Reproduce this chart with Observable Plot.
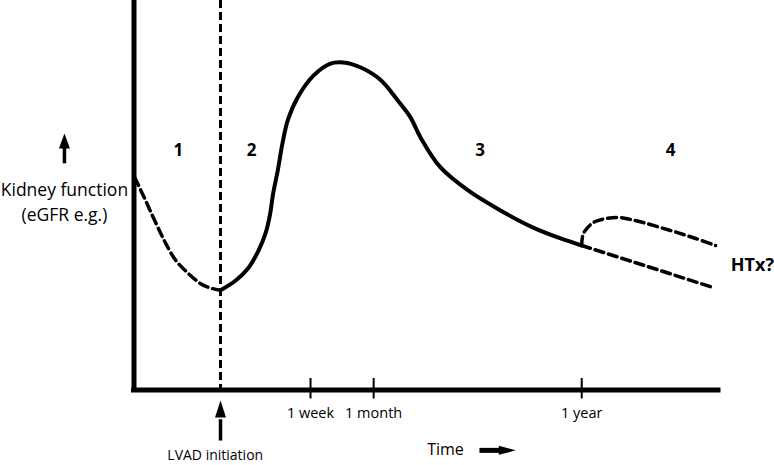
<!DOCTYPE html>
<html>
<head>
<meta charset="utf-8">
<script src="https://cdn.jsdelivr.net/npm/d3@7"></script>
<script src="https://cdn.jsdelivr.net/npm/@observablehq/plot@0.6"></script>
<style>
  html, body { margin: 0; padding: 0; background: #fff; }
</style>
</head>
<body>
<div id="chart"></div>
<script>
// ---- data (arbitrary time units 0–100, kidney function 0–100) ----
// phase 1: before LVAD (dashed decline)
const preTime = [0.1, 1.6, 3.3, 5.0, 6.8, 9.1, 11.4, 14.8];
const preFunc = [54.6, 49.9, 44.3, 38.9, 34.0, 30.2, 27.3, 25.6];
// phases 2–3: after LVAD (solid)
const postTime = [14.8, 17.4, 19.6, 21.3, 22.5, 23.3, 23.8, 24.6, 25.4, 26.3, 28.0, 30.7, 33.6, 35.8, 38.8, 42.2, 45.3, 47.3, 49.0, 52.4, 57.1, 62.7, 68.3, 73.0, 76.6];
const postFunc = [25.6, 28.1, 31.4, 35.8, 40.2, 45.3, 50.4, 56.4, 63.3, 69.2, 75.1, 80.7, 83.8, 84.1, 82.8, 79.6, 74.0, 70.0, 64.9, 57.2, 51.3, 46.1, 41.7, 38.9, 37.1];
// phase 4: with heart transplant (upper dashed)
const htxTime = [76.6, 76.9, 78.6, 80.7, 82.7, 84.9, 87.1, 90.1, 93.0, 96.1, 99.5];
const htxFunc = [37.1, 40.2, 43.0, 44.0, 44.3, 43.8, 43.0, 41.7, 40.4, 38.9, 37.1];
// phase 4: without transplant (lower dashed)
const noHtxTime = [76.6, 87.9, 99.1];
const noHtxFunc = [37.1, 31.7, 26.3];

const lvadTime = 14.8;
const tickPos = [30.2, 41.0, 76.6];
const tickLabels = ["1 week", "1 month", "1 year"];
const phaseLabels = ["1", "2", "3", "4"];
const phaseX = [7.6, 20.1, 59.2, 91.8];
const phaseY = 61.5;

// annotation positions (data units, extrapolated outside the frame)
const yLabelLines = ["Kidney function", "(eGFR e.g.)"];
const yLabelX = -11.9;
const yLabelY = [51.2, 44.8];
const yArrow = {x: -11.9, y1: 58.2, y2: 62.5, head: 62.0};
const lvadLabel = "LVAD initiation";
const lvadArrow = {x: 14.8, y1: -12.97, y2: -7.5, head: -7.06, labelX: 13.9, labelY: -16.9};
const timeLabel = "Time";
const timeArrow = {labelX: 53.3, y: -15.5, x1: 59.1, x2: 62.8, head: 62.4};
const htxLabel = "HTx?";
const htxLabelPos = {x: 102.1, y: 32.0};
const tickLabelY = -6.0;

const toRows = (xs, ys) => xs.map((x, i) => ({t: x, f: ys[i]}));
const pre = toRows(preTime, preFunc);
const post = toRows(postTime, postFunc);
const htx = toRows(htxTime, htxFunc);
const noHtx = toRows(noHtxTime, noHtxFunc);

const font = "'Open Sans', sans-serif";
const reg = 500;

const chart = Plot.plot({
  width: 774,
  height: 465,
  marginLeft: 133.5,
  marginRight: 56,
  marginTop: 0,
  marginBottom: 75.5,
  x: {domain: [0, 100], axis: null},
  y: {domain: [0, 100], axis: null},
  style: {fontFamily: font, background: "white", color: "black", overflow: "visible"},
  marks: [
    // LVAD vertical dashed line
    Plot.ruleX([lvadTime], {stroke: "black", strokeWidth: 3, strokeDasharray: "8,4"}),
    // axes
    Plot.ruleX([0], {stroke: "black", strokeWidth: 5, strokeLinecap: "square"}),
    Plot.ruleY([0], {x1: 0, x2: 100, stroke: "black", strokeWidth: 5, strokeLinecap: "square"}),
    // ticks crossing the axis
    Plot.ruleX(tickPos, {y1: -2.3, y2: 2.95, stroke: "black", strokeWidth: 2}),
    Plot.text(tickPos, {x: d => d, y: tickLabelY, text: (d, i) => tickLabels[i], fontSize: 14.5, fontWeight: reg, fill: "black", lineAnchor: "middle"}),
    // curves
    Plot.line(pre, {x: "t", y: "f", curve: "monotone-x", stroke: "black", strokeWidth: 3.5, strokeDasharray: "9,5"}),
    Plot.line(post, {x: "t", y: "f", curve: "catmull-rom", stroke: "black", strokeWidth: 4}),
    Plot.line(htx, {x: "t", y: "f", curve: "catmull-rom", stroke: "black", strokeWidth: 3.5, strokeDasharray: "9,5"}),
    Plot.line(noHtx, {x: "t", y: "f", curve: "linear", stroke: "black", strokeWidth: 3.5, strokeDasharray: "9,5"}),
    // phase numbers
    Plot.text(phaseLabels, {x: (d, i) => phaseX[i], y: phaseY, text: d => d, fontSize: 17, fontWeight: "bold", fill: "black"}),
    // HTx?
    Plot.text([htxLabel], {x: htxLabelPos.x, y: htxLabelPos.y, text: d => d, textAnchor: "start", fontSize: 18, fontWeight: "bold", fill: "black"}),
    // y label and arrow
    Plot.text(yLabelLines, {x: yLabelX, y: (d, i) => yLabelY[i], text: d => d, fontSize: 17.5, fontWeight: reg, fill: "black"}),
    Plot.link([yArrow], {x1: "x", x2: "x", y1: "y1", y2: "y2", stroke: "black", strokeWidth: 3.5}),
    Plot.vector([yArrow], {x: "x", y: "head", shape: "spike", anchor: "start", length: 15, r: 5.5, rotate: 0, fill: "black", stroke: "none"}),
    // LVAD arrow and label
    Plot.link([lvadArrow], {x1: "x", x2: "x", y1: "y1", y2: "y2", stroke: "black", strokeWidth: 3.5}),
    Plot.vector([lvadArrow], {x: "x", y: "head", shape: "spike", anchor: "start", length: 17, r: 5.5, rotate: 0, fill: "black", stroke: "none"}),
    Plot.text([lvadLabel], {x: lvadArrow.labelX, y: lvadArrow.labelY, text: d => d, fontSize: 14, fontWeight: reg, fill: "black"}),
    // Time label and arrow
    Plot.text([timeLabel], {x: timeArrow.labelX, y: timeArrow.y, text: d => d, fontSize: 16, fontWeight: reg, fill: "black"}),
    Plot.link([timeArrow], {x1: "x1", x2: "x2", y1: "y", y2: "y", stroke: "black", strokeWidth: 5}),
    Plot.vector([timeArrow], {x: "head", y: "y", shape: "spike", anchor: "start", length: 17, r: 4.5, rotate: 90, fill: "black", stroke: "none"})
  ]
});
document.getElementById("chart").appendChild(chart);
</script>
</body>
</html>
